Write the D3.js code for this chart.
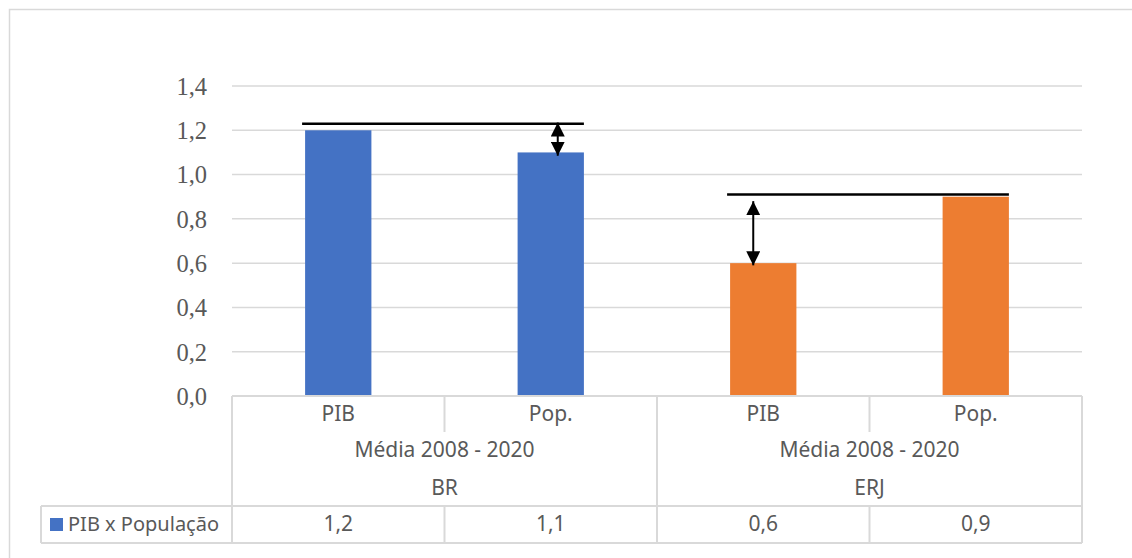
<!DOCTYPE html>
<html>
<head>
<meta charset="utf-8">
<script src="https://cdn.jsdelivr.net/npm/d3@7/dist/d3.min.js"></script>
<style>
  html, body { margin: 0; padding: 0; background: #fff; }
  svg { display: block; }
</style>
</head>
<body>
<svg id="chart" width="1132" height="558"></svg>
<script>
// Categories and values
const groups = ["BR", "ERJ"];
const groupSub = ["Média 2008 - 2020", "Média 2008 - 2020"];
const categories = ["PIB", "Pop.", "PIB", "Pop."];
const categoryGroup = [0, 0, 1, 1];
const values = [1.2, 1.1, 0.6, 0.9];
const valueLabels = ["1,2", "1,1", "0,6", "0,9"];
const seriesName = "PIB x População";
const yTicks = [0, 0.2, 0.4, 0.6, 0.8, 1.0, 1.2, 1.4];

// Annotation: reference line level per group and the double arrow span
const refLevel = [1.23, 0.91];
const arrowTop = [1.235, 0.88];
const arrowBottom = [1.085, 0.59];
const arrowBar = [1, 2];          // which bar the arrow sits on

const groupColors = ["#4472C4", "#ED7D31"];
const textColor = "#595959";
const lineColor = "#d9d9d9";
const sansFont = "'Noto Sans', 'Open Sans', sans-serif";

const svg = d3.select("#chart");

// outer chart border
svg.append("rect")
  .attr("x", 9.5).attr("y", 9.5)
  .attr("width", 1140).attr("height", 560)
  .attr("fill", "none").attr("stroke", lineColor).attr("stroke-width", 1.5);

const plot = { left: 232, right: 1082, top: 86, bottom: 396 };

const x = d3.scaleBand()
  .domain(d3.range(categories.length))
  .range([plot.left, plot.right])
  .padding(0);

const y = d3.scaleLinear()
  .domain([0, 1.4])
  .range([plot.bottom, plot.top]);

const barW = x.bandwidth() * 0.312;
const barX = i => x(i) + (x.bandwidth() - barW) / 2;

// gridlines
svg.append("g")
  .selectAll("line")
  .data(yTicks.filter(t => t > 0))
  .join("line")
  .attr("x1", plot.left).attr("x2", plot.right)
  .attr("y1", d => y(d)).attr("y2", d => y(d))
  .attr("stroke", lineColor).attr("stroke-width", 1.5);

// y axis labels
const yAxis = d3.axisLeft(y)
  .tickValues(yTicks)
  .tickSize(0)
  .tickPadding(0)
  .tickFormat(d => d3.format(".1f")(d).replace(".", ","));

const yG = svg.append("g")
  .attr("transform", `translate(${plot.left - 25},0)`)
  .call(yAxis);
yG.select(".domain").remove();
yG.selectAll("text")
  .attr("font-family", "'Liberation Serif', 'Times New Roman', serif")
  .attr("font-size", 24.5)
  .attr("fill", textColor)
  .attr("dy", "0.34em");

// bars
svg.append("g")
  .selectAll("rect")
  .data(values)
  .join("rect")
  .attr("x", (d, i) => barX(i))
  .attr("width", barW)
  .attr("y", d => y(d))
  .attr("height", d => y(0) - y(d))
  .attr("fill", (d, i) => groupColors[categoryGroup[i]]);

// data table under the plot
const rowTop = plot.bottom;      // 396
const row1 = 432;                // end of category row dividers
const legendTop = 506;
const legendBottom = 543;
const legendLeft = 41;

const table = svg.append("g")
  .attr("stroke", lineColor).attr("stroke-width", 2).attr("fill", "none");

// top axis line
table.append("line")
  .attr("x1", plot.left).attr("x2", plot.right)
  .attr("y1", rowTop).attr("y2", rowTop);
// legend row horizontals
[legendTop, legendBottom].forEach(yy => {
  table.append("line")
    .attr("x1", legendLeft).attr("x2", plot.right)
    .attr("y1", yy).attr("y2", yy);
});
// full height verticals: plot edges and group boundaries
const groupEdges = [0, 2, 4].map(i => i < 4 ? x(i) : plot.right);
groupEdges.forEach(xx => {
  table.append("line")
    .attr("x1", xx).attr("x2", xx)
    .attr("y1", rowTop).attr("y2", legendBottom);
});
// inner category dividers (top row + legend row)
[1, 3].forEach(i => {
  table.append("line").attr("x1", x(i)).attr("x2", x(i))
    .attr("y1", rowTop).attr("y2", row1);
  table.append("line").attr("x1", x(i)).attr("x2", x(i))
    .attr("y1", legendTop).attr("y2", legendBottom);
});
table.append("line")
  .attr("x1", legendLeft).attr("x2", legendLeft)
  .attr("y1", legendTop).attr("y2", legendBottom);

const txt = svg.append("g")
  .attr("font-family", sansFont)
  .attr("font-size", 21)
  .attr("fill", textColor)
  .attr("text-anchor", "middle")
  .attr("dominant-baseline", "central");

txt.selectAll("text.cat")
  .data(categories)
  .join("text")
  .attr("class", "cat")
  .attr("x", (d, i) => x(i) + x.bandwidth() / 2)
  .attr("y", 413)
  .text(d => d);

txt.selectAll("text.sub")
  .data(groupSub)
  .join("text")
  .attr("class", "sub")
  .attr("x", (d, g) => x(g * 2) + x.bandwidth())
  .attr("y", 449)
  .text(d => d);

txt.selectAll("text.grp")
  .data(groups)
  .join("text")
  .attr("class", "grp")
  .attr("x", (d, g) => x(g * 2) + x.bandwidth())
  .attr("y", 487)
  .text(d => d);

txt.selectAll("text.val")
  .data(valueLabels)
  .join("text")
  .attr("class", "val")
  .attr("x", (d, i) => x(i) + x.bandwidth() / 2)
  .attr("y", 523)
  .text(d => d);

// legend key
svg.append("rect")
  .attr("x", 50).attr("y", 518)
  .attr("width", 13).attr("height", 13)
  .attr("fill", groupColors[0]);
txt.append("text")
  .attr("x", 68).attr("y", 523)
  .attr("font-size", 20)
  .attr("text-anchor", "start")
  .text(seriesName);

// annotation: reference lines and double arrows
const defs = svg.append("defs");
["arrowStart", "arrowEnd"].forEach((id, k) => {
  defs.append("marker")
    .attr("id", id)
    .attr("markerUnits", "userSpaceOnUse")
    .attr("viewBox", "0 0 14 14")
    .attr("refX", k === 0 ? 0 : 14).attr("refY", 7)
    .attr("markerWidth", 14).attr("markerHeight", 14)
    .attr("orient", "auto")
    .append("path")
    .attr("d", k === 0 ? "M0,7 L14,0 L14,14 Z" : "M14,7 L0,0 L0,14 Z")
    .attr("fill", "#000");
});

const ann = svg.append("g");
groups.forEach((g, gi) => {
  const first = gi * 2, last = gi * 2 + 1;
  ann.append("line")
    .attr("x1", barX(first) - 3)
    .attr("x2", barX(last) + barW)
    .attr("y1", y(refLevel[gi])).attr("y2", y(refLevel[gi]))
    .attr("stroke", "#000").attr("stroke-width", 2.5);

  const bi = arrowBar[gi];
  const ax = x(bi) + x.bandwidth() / 2 + (gi === 0 ? 7 : -10);
  ann.append("line")
    .attr("x1", ax).attr("x2", ax)
    .attr("y1", y(arrowTop[gi])).attr("y2", y(arrowBottom[gi]))
    .attr("stroke", "#000").attr("stroke-width", 2)
    .attr("marker-start", "url(#arrowStart)")
    .attr("marker-end", "url(#arrowEnd)");
});
</script>
</body>
</html>
